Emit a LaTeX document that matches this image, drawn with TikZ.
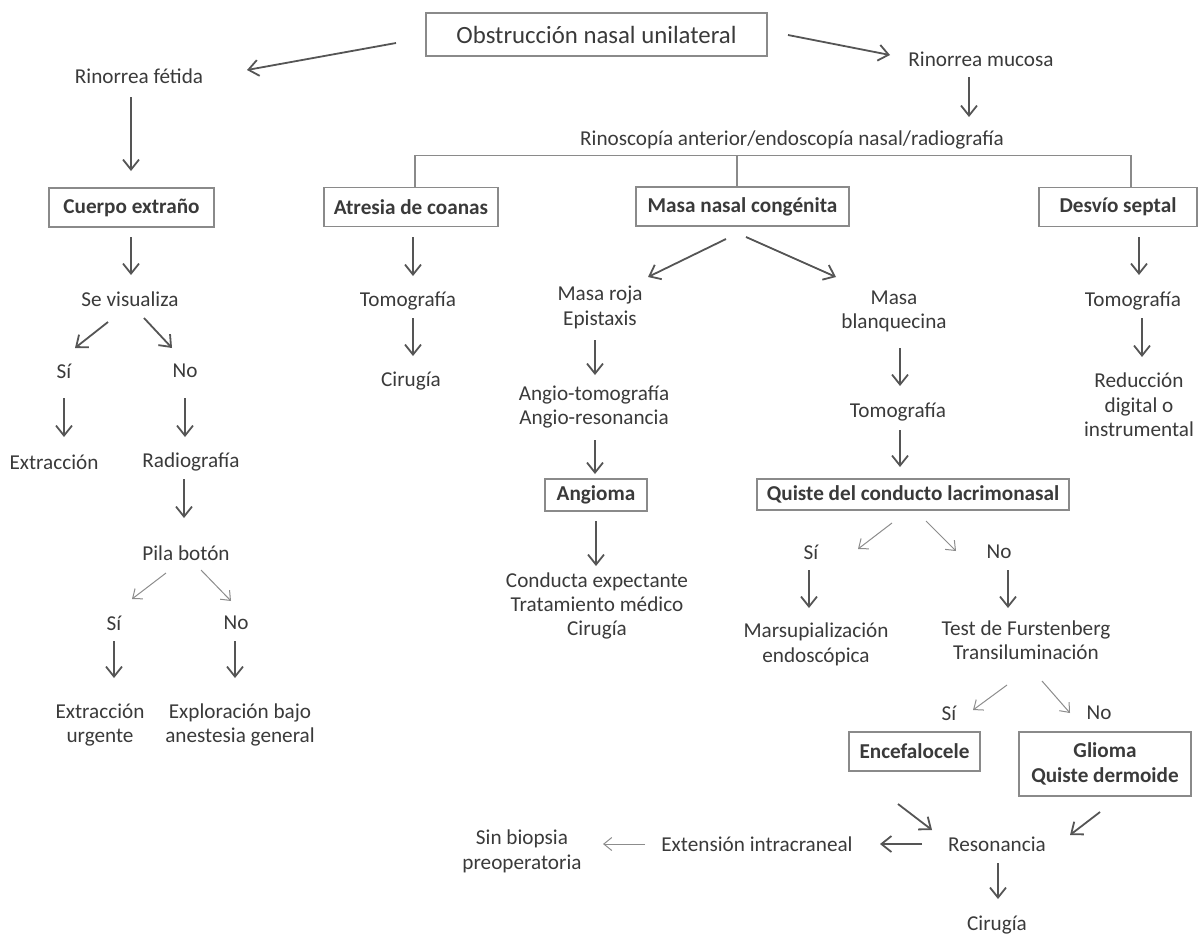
\documentclass[tikz,border=0pt]{standalone}
\usepackage{fontspec}
\setmainfont{Carlito}
\usetikzlibrary{arrows.meta,calc}
\definecolor{ink}{HTML}{3A3A3A}
\definecolor{arrowgray}{HTML}{555555}
\definecolor{faintgray}{HTML}{8C8C8C}
\definecolor{framegray}{HTML}{8A8A8A}

\begin{document}
\begin{tikzpicture}[x=0.5pt,y=-0.5pt,
  every node/.style={text=ink, font=\fontsize{10.6}{12.2}\selectfont, align=center, inner sep=2pt},
  box/.style={draw=framegray, line width=0.7pt, font=\fontsize{10.6}{12.2}\selectfont\bfseries, minimum height=19.5pt},
  >={Straight Barb[length=5pt,width=8pt]},
  arr/.style={->, draw=arrowgray, line width=0.9pt},
  faint/.style={->, draw=faintgray, line width=0.5pt, >={Straight Barb[length=4pt,width=6.5pt]}},
  link/.style={draw=framegray, line width=0.6pt}]
  \useasboundingbox (0,0) rectangle (1199,933);

  % top
  \node[box, font=\fontsize{12.4}{14}\selectfont, minimum width=170.5pt, minimum height=21.5pt] (obst) at (596.5,34.5) {Obstrucción nasal unilateral};
  \node (fetida) at (139,76) {Rinorrea fétida};
  \node (mucosa) at (981,59) {Rinorrea mucosa};
  \node (rinosc) at (792,140) {Rinoscopía anterior/endoscopía nasal/radiografía};

  % main boxes
  \node[box, minimum width=82.5pt] (cuerpo) at (131.5,207.5) {Cuerpo extraño};
  \node[box, minimum width=87pt] (atresia) at (411,207) {Atresia de coanas};
  \node[box, minimum width=106.5pt] (masa) at (742.5,206.5) {Masa nasal congénita};
  \node[box, minimum width=79pt] (desvio) at (1118,207) {Desvío septal};

  % cuerpo extrano
  \node (sevis) at (130,299) {Se visualiza};
  \node (si1) at (64,371) {Sí};
  \node (no1) at (185,371) {No};
  \node (extr1) at (54,462) {Extracción};
  \node (radio) at (191,462) {Radiografía};
  \node (pila) at (186,553) {Pila botón};
  \node (si2) at (114,623) {Sí};
  \node (no2) at (236,623) {No};
  \node (extr2) at (100,725) {Extracción\\urgente};
  \node (explo) at (240,725) {Exploración bajo\\anestesia general};

  % atresia
  \node (tomo1) at (408,301) {Tomografía};
  \node (cirug1) at (411,381) {Cirugía};

  % masa nasal
  \node (roja) at (600,307.5) {Masa roja\\Epistaxis};
  \node (angio) at (594,407) {Angio-tomografía\\Angio-resonancia};
  \node[box, minimum width=51pt, minimum height=16pt] (angioma) at (596,495) {Angioma};
  \node (conducta) at (597,606) {Conducta expectante\\Tratamiento médico\\Cirugía};
  \node (blanq) at (894,311.5) {Masa\\blanquecina};
  \node (tomo2) at (898,412) {Tomografía};
  \node[box, minimum width=156pt, minimum height=15.5pt] (quiste) at (913,494.5) {Quiste del conducto lacrimonasal};
  \node (siq) at (811,552) {Sí};
  \node (noq) at (999,552) {No};
  \node (marsu) at (816,644.5) {Marsupialización\\endoscópica};
  \node (test) at (1026,640.5) {Test de Furstenberg\\Transiluminación};
  \node (sit) at (949,713) {Sí};
  \node (nog) at (1099,713) {No};
  \node[box, minimum width=65.5pt] (encef) at (914.5,751.5) {Encefalocele};
  \node[box, minimum width=86pt, minimum height=32pt] (glioma) at (1105,764) {Glioma\\Quiste dermoide};
  \node (reson) at (997,844) {Resonancia};
  \node (exten) at (757,844) {Extensión intracraneal};
  \node (sinbio) at (522,851.5) {Sin biopsia\\preoperatoria};
  \node (cirug2) at (997,925) {Cirugía};

  % desvio
  \node (tomo3) at (1133,301) {Tomografía};
  \node (reduc) at (1139,405) {Reducción\\digital o\\instrumental};

  % bracket under rinoscopia
  \draw[link] ($(atresia.north)+(4,0)$) |- ($(desvio.north)+(13,-31)$) -- ($(desvio.north)+(13,0)$);
  \draw[link] ($(masa.north)+(-5.5,0)$) -- ++(0,-31);

  \draw[arr] ($(obst)+(-200.5,8.5)$) -- ($(fetida)+(108,-6)$);
  \draw[arr] ($(obst)+(191.5,0.5)$) -- ($(mucosa)+(-91,-4)$);
  \draw[arr] ($(mucosa)+(-12,18)$) -- ($(rinosc)+(177,-23)$);

  \draw[arr] ($(fetida)+(-8,21)$) -- ($(cuerpo)+(-0.5,-36.5)$);
  \draw[arr] ($(cuerpo)+(-0.5,29.5)$) -- ($(sevis)+(1,-24)$);
  \draw[arr] ($(sevis)+(-22,23)$) -- ($(si1)+(11,-23)$);
  \draw[arr] ($(sevis)+(14,19)$) -- ($(no1)+(-13,-23)$);
  \draw[arr] ($(si1)+(0,27)$) -- ($(extr1)+(10,-25)$);
  \draw[arr] ($(no1)+(0,27)$) -- ($(radio)+(-6,-25)$);
  \draw[arr] ($(radio)+(-7,17)$) -- ($(pila)+(-2,-35)$);
  \draw[faint] ($(pila)+(-20,20)$) -- ($(si2)+(18,-24)$);
  \draw[faint] ($(pila)+(15,17)$) -- ($(no2)+(-5,-22)$);
  \draw[arr] ($(si2)+(0,18)$) -- ($(extr2)+(14,-47)$);
  \draw[arr] ($(no2)+(-1,18)$) -- ($(explo)+(-5,-47)$);

  \draw[arr] ($(atresia)+(2,30)$) -- ($(tomo1)+(5,-25)$);
  \draw[arr] ($(tomo1)+(5,17)$) -- ($(cirug1)+(2,-25)$);

  \draw[arr] ($(masa)+(-16.5,32.5)$) -- ($(roja)+(48,-30.5)$);
  \draw[arr] ($(masa)+(3.5,30.5)$) -- ($(blanq)+(-58,-34.5)$);
  \draw[arr] ($(roja)+(-5,32.5)$) -- ($(angio)+(1,-32)$);
  \draw[arr] ($(angio)+(1,33)$) -- ($(angioma)+(-1,-21)$);
  \draw[arr] ($(angioma)+(0,26)$) -- ($(conducta)+(-1,-40)$);
  \draw[arr] ($(blanq)+(6,36.5)$) -- ($(tomo2)+(2,-26)$);
  \draw[arr] ($(tomo2)+(2,18)$) -- ($(quiste)+(-13,-27.5)$);
  \draw[faint] ($(quiste)+(-21,28.5)$) -- ($(siq)+(47,-3)$);
  \draw[faint] ($(quiste)+(13,26.5)$) -- ($(noq)+(-43,-1)$);
  \draw[arr] ($(siq)+(-2,18)$) -- ($(marsu)+(-7,-36.5)$);
  \draw[arr] ($(noq)+(9,18)$) -- ($(test)+(-18,-32.5)$);
  \draw[faint] ($(test)+(-19,44.5)$) -- ($(sit)+(24,-3)$);
  \draw[faint] ($(test)+(16,40.5)$) -- ($(nog)+(-29,0)$);
  \draw[arr] ($(encef)+(-16.5,52.5)$) -- ($(reson)+(-65,-14)$);
  \draw[arr] ($(glioma)+(-5,48)$) -- ($(reson)+(73,-9)$);
  \draw[arr] ($(reson)+(-75,0)$) -- ($(exten)+(123,0)$);
  \draw[faint] ($(exten)+(-112,0)$) -- ($(sinbio)+(81,-7.5)$);
  \draw[arr] ($(reson)+(1,19)$) -- ($(cirug2)+(1,-26)$);

  \draw[arr] ($(desvio)+(21,30)$) -- ($(tomo3)+(6,-26)$);
  \draw[arr] ($(tomo3)+(9,17)$) -- ($(reduc)+(3,-48)$);
\end{tikzpicture}
\end{document}
